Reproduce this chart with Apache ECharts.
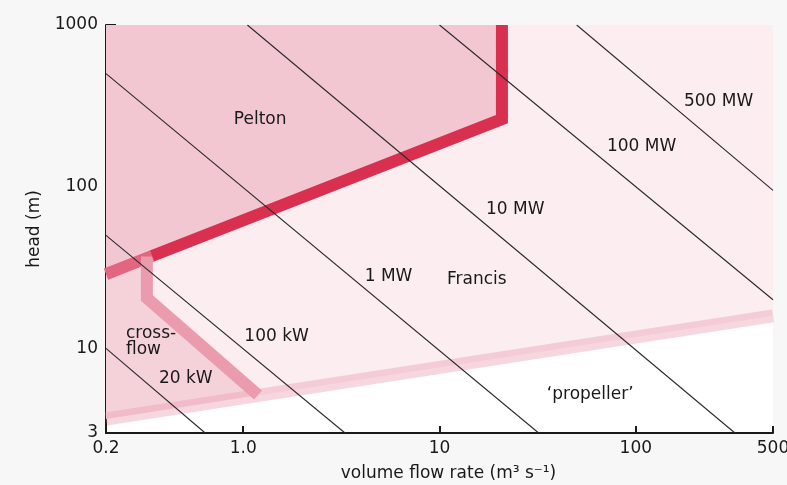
<!DOCTYPE html>
<html><head><meta charset="utf-8">
<script src="https://cdn.jsdelivr.net/npm/echarts@6/dist/echarts.min.js"></script>
<style>html,body{margin:0;padding:0;background:#f6f7f6}#c{width:787px;height:485px}</style>
</head><body><div id="c"></div>
<script>
// Axis tick labels
const xTickValues = [0.2, 1, 10, 100, 500];
const xTickLabels = ['0.2', '1.0', '10', '100', '500'];
const yTickValues = [3, 10, 100, 1000];
const yTickLabels = ['3', '10', '100', '1000'];

// Constant-power lines [Q (m3/s), H (m)] end points
const line20kW  = [[0.2, 10], [0.64, 3]];
const line100kW = [[0.2, 50], [3.3, 3]];
const line1MW   = [[0.2, 500], [32, 3]];
const line10MW  = [[1.05, 1000], [320, 3]];
const line100MW = [[10, 1000], [500, 20]];
const line500MW = [[50, 1000], [500, 95]];

// Turbine region boundaries
const peltonLight = [[0.2, 28.8], [0.343, 37.3]];
const peltonDark  = [[0.343, 37.3], [20.8, 262], [20.8, 1000]];
const crossflowBoundary = [[0.323, 37], [0.323, 20.5], [1.19, 5.15]];
const propellerBoundary = [[0.2, 3.66], [500, 15.9]];

// Region polygons
const francisRegion   = [[0.2, 3.66], [500, 15.9], [500, 1000], [0.2, 1000]];
const peltonRegion    = [[0.2, 28.8], [20.8, 262], [20.8, 1000], [0.2, 1000]];
const crossflowRegion = [[0.2, 3.66], [0.2, 28.8], [0.323, 35.5], [0.323, 20.5], [1.19, 5.15]];

// Text labels
const textLabels = ['Pelton', '500 MW', '100 MW', '10 MW', '1 MW', 'Francis', '\u2018propeller\u2019', '100 kW', '20 kW', 'cross-\nflow'];
const textQ = [1.22, 264, 107, 24.3, 5.5, 15.5, 58.6, 1.48, 0.51, 0.2528];
const textH = [261, 336, 176, 71.8, 27.8, 26.5, 5.15, 11.8, 6.52, 10.96];
const textAlign = ['center','center','center','center','center','center','center','center','center','left'];

const FONT = '"DejaVu Sans", "Liberation Sans", Arial, sans-serif';

function polygonsSeries(polys, colors) {
  return {
    type: 'custom', coordinateSystem: 'cartesian2d', silent: true, z: 1, clip: true,
    data: polys.map(function (p, i) { return [p[0][0], p[0][1], i]; }),
    renderItem: function (params, api) {
      const i = params.dataIndex;
      return { type: 'polygon', z2: i, shape: { points: polys[i].map(function (p) { return api.coord(p); }) }, style: { fill: colors[i] } };
    }
  };
}
function lineSeries(points, color, width, z) {
  return {
    type: 'line', data: points, symbol: 'none', silent: true, z: z, clip: true,
    lineStyle: { color: color, width: width, cap: 'butt', join: 'miter' }
  };
}

function fmtX(v) {
  for (let i = 0; i < xTickValues.length; i++) {
    if (Math.abs(v - xTickValues[i]) < 1e-6 * xTickValues[i]) return xTickLabels[i];
  }
  return '';
}
function fmtY(v) {
  for (let i = 0; i < yTickValues.length; i++) {
    if (Math.abs(v - yTickValues[i]) < 1e-6 * yTickValues[i]) return yTickLabels[i];
  }
  return '';
}

const chart = echarts.init(document.getElementById('c'), null, { renderer: 'canvas' });
chart.setOption({
  animation: false,
  backgroundColor: '#f6f7f6',
  grid: { left: 106, right: 14, top: 25, bottom: 52, show: true, backgroundColor: '#ffffff', borderWidth: 0, outerBoundsMode: 'none', containLabel: false },
  xAxis: {
    type: 'log', logBase: 10, min: 0.2, max: 500,
    name: 'volume flow rate (m\u00b3 s\u207b\u00b9)', nameLocation: 'middle', nameGap: 32,
    nameTextStyle: { fontFamily: FONT, fontSize: 17, color: '#1a1a1a', padding: [0, 0, 0, 18] },
    axisLine: { show: true, lineStyle: { color: '#1a1a1a', width: 2 } },
    axisTick: { show: true, inside: true, length: 7, lineStyle: { color: '#1a1a1a', width: 2 } },
    axisLabel: { fontFamily: FONT, fontSize: 17, color: '#1a1a1a', margin: 7, showMinLabel: true, showMaxLabel: true, formatter: fmtX },
    splitLine: { show: false }, minorTick: { show: false }
  },
  yAxis: {
    type: 'log', logBase: 10, min: 3, max: 1000,
    name: 'head (m)', nameLocation: 'middle', nameGap: 63, nameRotate: 90,
    nameTextStyle: { fontFamily: FONT, fontSize: 17, color: '#1a1a1a' },
    axisLine: { show: true, lineStyle: { color: '#1a1a1a', width: 2 } },
    axisTick: { show: true, inside: true, length: 10, lineStyle: { color: '#1a1a1a', width: 2 } },
    axisLabel: { fontFamily: FONT, fontSize: 17, color: '#1a1a1a', margin: 8, showMinLabel: true, showMaxLabel: true, formatter: fmtY },
    splitLine: { show: false }, minorTick: { show: false }
  },
  series: [
    polygonsSeries([francisRegion, crossflowRegion, peltonRegion], ['#fbedf0', '#f5d2da', '#f3c7d1']),
    lineSeries(propellerBoundary, 'rgba(235,150,170,0.38)', 13, 4),
    lineSeries(peltonLight, '#e3657f', 12, 5),
    lineSeries(crossflowBoundary, '#ea9bad', 12, 6),
    lineSeries(peltonDark, '#d9304f', 12, 7),
    lineSeries(line20kW, '#2a2a2a', 1.1, 8),
    lineSeries(line100kW, '#2a2a2a', 1.1, 8),
    lineSeries(line1MW, '#2a2a2a', 1.1, 8),
    lineSeries(line10MW, '#2a2a2a', 1.1, 8),
    lineSeries(line100MW, '#2a2a2a', 1.1, 8),
    lineSeries(line500MW, '#2a2a2a', 1.1, 8),
    {
      type: 'custom', coordinateSystem: 'cartesian2d', silent: true, z: 10,
      data: textQ.map(function (q, i) { return [q, textH[i]]; }),
      renderItem: function (params, api) {
        const i = params.dataIndex;
        const p = api.coord([api.value(0), api.value(1)]);
        return {
          type: 'text', x: p[0], y: p[1],
          style: { text: textLabels[i], fill: '#1a1a1a', fontSize: 17, fontFamily: FONT, align: textAlign[i], verticalAlign: 'middle', lineHeight: 16 }
        };
      }
    }
  ]
});
</script></body></html>
